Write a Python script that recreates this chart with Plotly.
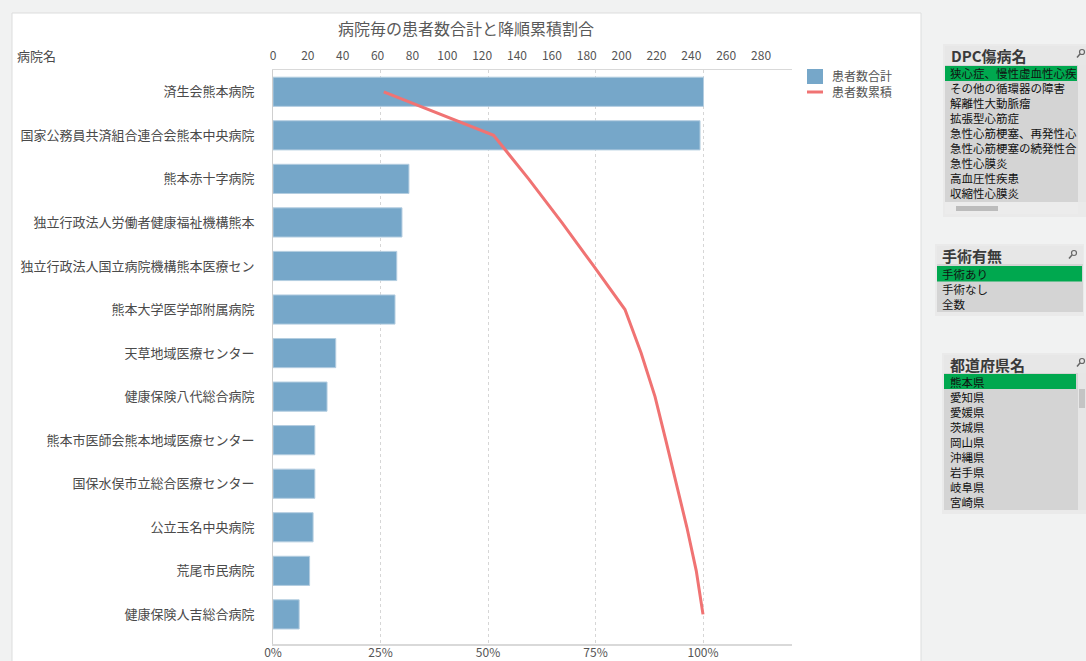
import numpy as np
import plotly.graph_objects as go

W, H = 1086, 661
FONT = "Noto Sans CJK JP"

# ---------------- data ----------------
hospitals = [
    "済生会熊本病院",
    "国家公務員共済組合連合会熊本中央病院",
    "熊本赤十字病院",
    "独立行政法人労働者健康福祉機構熊本",
    "独立行政法人国立病院機構熊本医療セン",
    "熊本大学医学部附属病院",
    "天草地域医療センター",
    "健康保険八代総合病院",
    "熊本市医師会熊本地域医療センター",
    "国保水俣市立総合医療センター",
    "公立玉名中央病院",
    "荒尾市民病院",
    "健康保険人吉総合病院",
]
patients = [247, 245, 78, 74, 71, 70, 36, 31, 24, 24, 23, 21, 15]
cum_share = list(np.cumsum(patients) / np.sum(patients))

count_ticks = list(range(0, 281, 20))
pct_ticks = [0, 0.25, 0.5, 0.75, 1.0]
pct_labels = ["0%", "25%", "50%", "75%", "100%"]

dpc_items = ["狭心症、慢性虚血性心疾", "その他の循環器の障害", "解離性大動脈瘤", "拡張型心筋症",
             "急性心筋梗塞、再発性心", "急性心筋梗塞の続発性合", "急性心膜炎", "高血圧性疾患", "収縮性心膜炎"]
surgery_items = ["手術あり", "手術なし", "全数"]
pref_items = ["熊本県", "愛知県", "愛媛県", "茨城県", "岡山県", "沖縄県", "岩手県", "岐阜県", "宮崎県"]

# ---------------- helpers ----------------
def fx(x):
    return x / W

def fy(y):
    return 1 - y / H

shapes = []
annotations = []

def rect(x0, y0, x1, y1, fill, line_color=None, lw=0):
    shapes.append(dict(type="rect", xref="paper", yref="paper", layer="below",
                       x0=fx(x0), x1=fx(x1), y0=fy(y1), y1=fy(y0), fillcolor=fill,
                       line=dict(color=line_color or fill, width=lw)))

def text(x, y, s, size=12, color="#222", anchor="left", bold=False):
    annotations.append(dict(xref="paper", yref="paper", x=fx(x), y=fy(y), text=(f"<b>{s}</b>" if bold else s),
                            showarrow=False, xanchor=anchor, yanchor="middle",
                            font=dict(family=FONT, size=size, color=color)))

def magnifier(cx, cy):
    shapes.append(dict(type="circle", xref="paper", yref="paper", layer="above",
                       x0=fx(cx - 2.5), x1=fx(cx + 2.5), y0=fy(cy + 2.5), y1=fy(cy - 2.5),
                       line=dict(color="#666", width=1.2)))
    shapes.append(dict(type="line", xref="paper", yref="paper", layer="above",
                       x0=fx(cx - 2), y0=fy(cy + 2), x1=fx(cx - 5), y1=fy(cy + 5.5),
                       line=dict(color="#666", width=1.5)))

# chart container
rect(12, 13, 921, 680, "white", "#dcdddd", 1)

# title & axis caption
text(466, 28, "病院毎の患者数合計と降順累積割合", size=16, color="#595959", anchor="center")
text(15, 55, "病院名", size=13, color="#4a4a4a")

# manual legend
rect(807, 69, 823, 84, "#76a7c9")
shapes.append(dict(type="line", xref="paper", yref="paper", layer="above",
                   x0=fx(807), x1=fx(823), y0=fy(92), y1=fy(92), line=dict(color="#f07373", width=3)))
text(830, 75.5, "患者数合計", size=12, color="#555")
text(830, 91.5, "患者数累積", size=12, color="#555")

# ---------------- side list boxes ----------------
LIST_BG = "#d4d4d4"
TITLE_BG = "#e7e7e7"
GREEN = "#00a84f"
ROW = 15

# panel 1: DPC傷病名
rect(943, 44, 1086, 217, "#eaeaea")
rect(945, 46, 1086, 65, TITLE_BG)
rect(945, 65, 1078, 202, LIST_BG)
rect(945, 66, 1077, 81, GREEN)
rect(1078, 65, 1086, 202, "#e6e6e6")
rect(945, 202, 1078, 214, "#ececec")
rect(956, 206, 998, 211, "#bcbcbc")
text(949, 55, "DPC傷病名", size=15, color="#3a3a3a", bold=True)
magnifier(1082, 52)
for i, s in enumerate(dpc_items):
    text(948, 73.5 + ROW * i, s, size=11.5, color="#111")

# panel 2: 手術有無
rect(935, 244, 1084, 316, "#eaeaea")
rect(937, 246, 1083, 264, TITLE_BG)
rect(937, 264, 1083, 312, LIST_BG)
rect(937, 266, 1082, 281.5, GREEN)
text(940, 255, "手術有無", size=15, color="#3a3a3a", bold=True)
magnifier(1074, 253)
for i, s in enumerate(surgery_items):
    text(940, 274 + ROW * i, s, size=11.5, color="#111")

# panel 3: 都道府県名
rect(942, 353, 1086, 514, "#eaeaea")
rect(944, 355, 1086, 373, TITLE_BG)
rect(944, 373, 1078, 510, LIST_BG)
rect(944, 374, 1076, 389, GREEN)
rect(1078, 373, 1086, 510, "#e6e6e6")
rect(1079, 389, 1085, 408, "#c4c4c4")
text(948, 364, "都道府県名", size=15, color="#3a3a3a", bold=True)
magnifier(1082, 361)
for i, s in enumerate(pref_items):
    text(948, 381.5 + ROW * i, s, size=11.5, color="#111")

# ---------------- traces ----------------
fig = go.Figure()
fig.add_trace(go.Bar(
    x=patients, y=hospitals, orientation="h", name="患者数合計",
    marker=dict(color="#76a7c9", line=dict(color="#b3cde0", width=1)),
    width=0.67, xaxis="x", yaxis="y", showlegend=False,
))
fig.add_trace(go.Scatter(
    x=cum_share, y=hospitals, mode="lines", name="患者数累積",
    line=dict(color="#f07373", width=3), xaxis="x2", yaxis="y", showlegend=False,
))

PLOT_X0, PLOT_X1 = 273, 792
PLOT_Y0, PLOT_Y1 = 70, 644
px_per_count = 1.743
px_per_pct = 430.0

tickfont = dict(family=FONT, size=12, color="#555")
fig.update_layout(
    width=W, height=H,
    margin=dict(l=0, r=0, t=0, b=0, autoexpand=False),
    paper_bgcolor="#f1f2f2",
    plot_bgcolor="rgba(0,0,0,0)",
    font=dict(family=FONT),
    bargap=0.33,
    xaxis=dict(
        domain=[fx(PLOT_X0), fx(PLOT_X1)], side="top", anchor="y", automargin=False,
        range=[0, (PLOT_X1 - PLOT_X0) / px_per_count],
        tickvals=count_ticks, ticktext=[str(v) for v in count_ticks],
        showgrid=False, zeroline=False, showline=True, linecolor="#d9d9d9", linewidth=1,
        ticks="", ticklabelstandoff=4, tickfont=tickfont, fixedrange=True,
    ),
    xaxis2=dict(
        overlaying="x", side="bottom", anchor="y", automargin=False,
        range=[0, (PLOT_X1 - PLOT_X0) / px_per_pct],
        tickvals=pct_ticks, ticktext=pct_labels,
        showgrid=True, gridcolor="#d6d6d6", griddash="3px,3px", gridwidth=1,
        zeroline=False, showline=True, linecolor="#d9d9d9", linewidth=2,
        ticks="", ticklabelstandoff=-3, tickfont=tickfont, fixedrange=True,
    ),
    yaxis=dict(
        domain=[fy(PLOT_Y1), fy(PLOT_Y0)], type="category", automargin=False,
        categoryorder="array", categoryarray=hospitals,
        range=[12.68, -0.5], showgrid=False, zeroline=False,
        showline=True, linecolor="#cfcfcf", linewidth=1,
        ticks="", ticklabelstandoff=15,
        tickfont=dict(family=FONT, size=13, color="#4a4a4a"), fixedrange=True,
    ),
    shapes=shapes,
    annotations=annotations,
)

fig.write_html("out.html")
